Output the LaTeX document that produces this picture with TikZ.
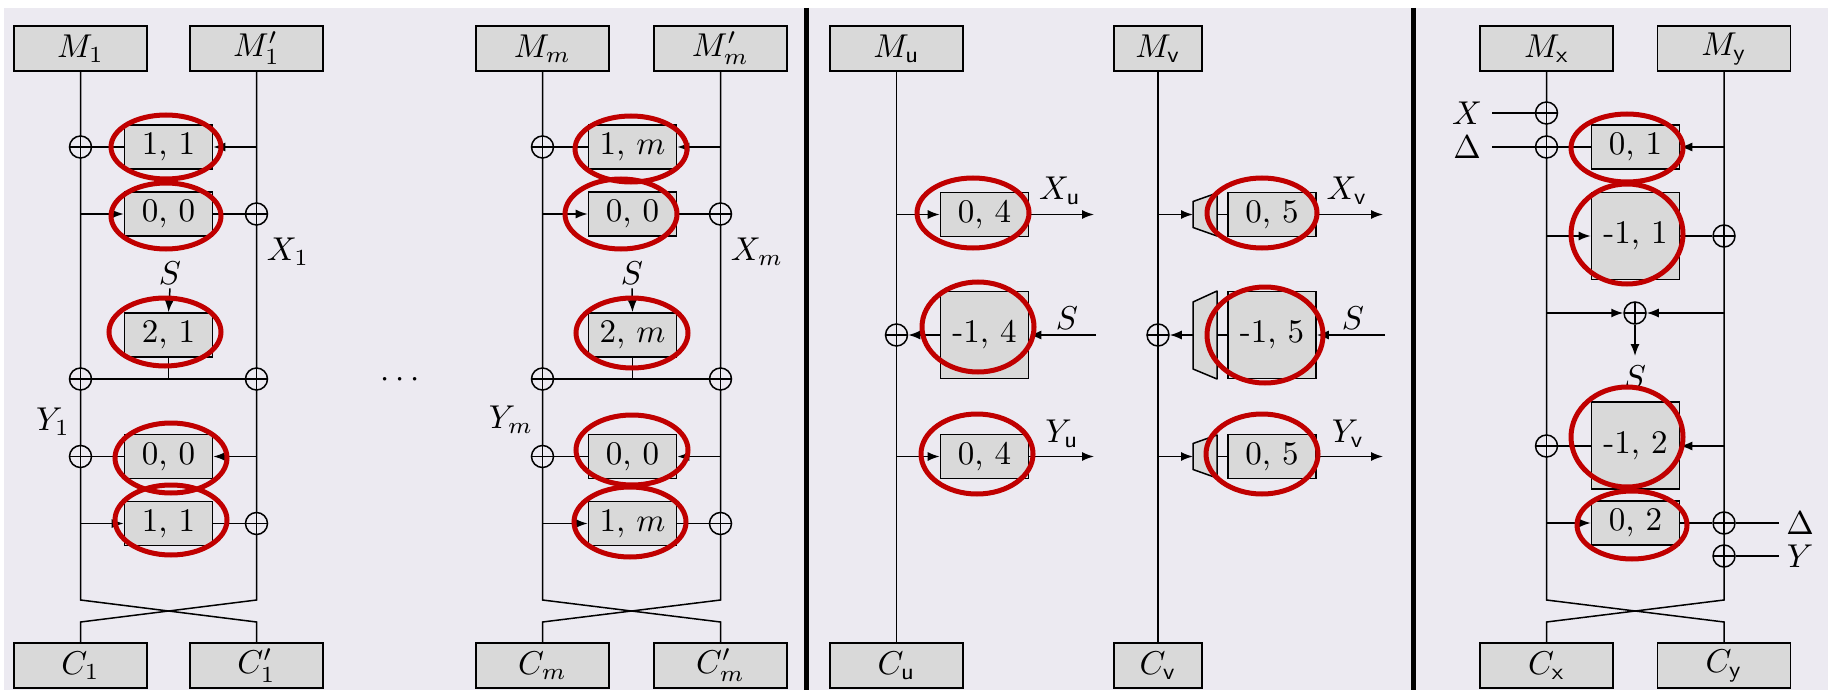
\documentclass[tikz,border=0pt]{standalone}
\usepackage{graphicx}
\usetikzlibrary{arrows.meta}
\definecolor{bgc}{RGB}{236,234,241}
\definecolor{boxg}{RGB}{217,217,217}
\definecolor{ringred}{RGB}{192,0,0}
\newcommand{\T}[1]{\scalebox{3.3}{#1}}
\tikzset{
  wire/.style={line width=1.5pt},
  arr/.style={line width=1.5pt,-{Latex[length=12pt,width=9pt]}},
  mbox/.style={draw,fill=boxg,line width=1.8pt,minimum width=133pt,minimum height=45pt,inner sep=0pt},
  nbox/.style={mbox,minimum width=88pt},
  sbox/.style={draw,fill=boxg,line width=1.6pt,minimum width=88pt,minimum height=44pt,inner sep=0pt},
  tbox/.style={sbox,minimum height=87pt},
  xor/.style={circle,draw,fill=bgc,line width=1.5pt,minimum size=22pt,inner sep=0pt,
    path picture={\draw[line width=1.5pt] (path picture bounding box.north)--(path picture bounding box.south)
      (path picture bounding box.west)--(path picture bounding box.east);}},
  lbl/.style={inner sep=0pt},
  ring/.style={draw=ringred,line width=5pt},
  trap/.style={draw,fill=boxg,line width=1.5pt,line join=round},
  divider/.style={line width=5pt},
}
\begin{document}
\begin{tikzpicture}[x=1pt,y=-1pt]
\useasboundingbox (0,0) rectangle (1831,690);
\fill[bgc] (4,8) rectangle (1828,690);
\draw[divider] (806,8) -- (806,690);
\draw[divider] (1413,8) -- (1413,690);

% ================= Block 1 =================
\node[mbox] (M1) at (80.5,48.5) {\T{$M_1$}};
\node[mbox] (M1p) at (256.5,48.5) {\T{$M_1'$}};
\node[mbox] (C1) at (80.5,665.5) {\T{$C_1$}};
\node[mbox] (C1p) at (256.5,665.5) {\T{$C_1'$}};
\node[sbox] (a11) at (168.5,147) {\T{1, 1}};
\node[sbox] (a00) at (168.5,214) {\T{0, 0}};
\node[sbox] (a21) at (168.5,335) {\T{2, 1}};
\node[sbox] (a00b) at (168.5,456.5) {\T{0, 0}};
\node[sbox] (a11b) at (168.5,523.5) {\T{1, 1}};
\coordinate (aL1) at (80.5,600);
\coordinate (aR1) at (256.5,600);
\coordinate (aL2) at (80.5,622);
\coordinate (aR2) at (256.5,622);
\draw[wire] (M1.south) -- (aL1) -- (aR2) -- (C1p.north);
\draw[wire] (M1p.south) -- (aR1) -- (aL2) -- (C1.north);
\node[xor] (ax1) at (80.5,147) {};
\node[xor] (ax2) at (256.5,214) {};
\node[xor] (ax3) at (80.5,379) {};
\node[xor] (ax4) at (256.5,379) {};
\node[xor] (ax5) at (80.5,456.5) {};
\node[xor] (ax6) at (256.5,523.5) {};
\draw[wire] (ax1) -- (a11.west);
\draw[arr] (M1p.south |- a11.east) -- (a11.east);
\draw[arr] (M1.south |- a00.west) -- (a00.west);
\draw[wire] (a00.east) -- (ax2);
\node[lbl] (S1) at (170,273) {\T{$S$}};
\draw[arr] ([yshift=-4pt]S1.south) -- (a21.north);
\draw[wire] (ax3) -- (ax4);
\draw[wire] (a21.south) -- (a21.south |- ax3);
\draw[wire] (ax5) -- (a00b.west);
\draw[arr] (M1p.south |- a00b.east) -- (a00b.east);
\draw[arr] (M1.south |- a11b.west) -- (a11b.west);
\draw[wire] (a11b.east) -- (ax6);
\node[lbl] (X1) at (288,252) {\T{$X_1$}};
\node[lbl] (Y1) at (53,422) {\T{$Y_1$}};

\node[lbl,anchor=base] (dots) at (400,387) {\T{$\cdots$}};

% ================= Block m =================
\node[mbox] (Mm) at (542.5,48.5) {\T{$M_m$}};
\node[mbox] (Mmp) at (720.5,48.5) {\T{$M_m'$}};
\node[mbox] (Cm) at (542.5,665.5) {\T{$C_m$}};
\node[mbox] (Cmp) at (720.5,665.5) {\T{$C_m'$}};
\node[sbox] (b1m) at (632.5,147) {\T{1, $m$}};
\node[sbox] (b00) at (632.5,214) {\T{0, 0}};
\node[sbox] (b2m) at (632.5,335) {\T{2, $m$}};
\node[sbox] (b00b) at (632.5,456.5) {\T{0, 0}};
\node[sbox] (b1mb) at (632.5,523.5) {\T{1, $m$}};
\coordinate (bL1) at (542.5,600);
\coordinate (bR1) at (720.5,600);
\coordinate (bL2) at (542.5,622);
\coordinate (bR2) at (720.5,622);
\draw[wire] (Mm.south) -- (bL1) -- (bR2) -- (Cmp.north);
\draw[wire] (Mmp.south) -- (bR1) -- (bL2) -- (Cm.north);
\node[xor] (bx1) at (542.5,147) {};
\node[xor] (bx2) at (720.5,214) {};
\node[xor] (bx3) at (542.5,379) {};
\node[xor] (bx4) at (720.5,379) {};
\node[xor] (bx5) at (542.5,456.5) {};
\node[xor] (bx6) at (720.5,523.5) {};
\draw[wire] (bx1) -- (b1m.west);
\draw[arr] (Mmp.south |- b1m.east) -- (b1m.east);
\draw[arr] (Mm.south |- b00.west) -- (b00.west);
\draw[wire] (b00.east) -- (bx2);
\node[lbl] (S2) at (632,273) {\T{$S$}};
\draw[arr] ([yshift=-4pt]S2.south) -- (b2m.north);
\draw[wire] (bx3) -- (bx4);
\draw[wire] (b2m.south) -- (b2m.south |- bx3);
\draw[wire] (bx5) -- (b00b.west);
\draw[arr] (Mmp.south |- b00b.east) -- (b00b.east);
\draw[arr] (Mm.south |- b1mb.west) -- (b1mb.west);
\draw[wire] (b1mb.east) -- (bx6);
\node[lbl] (Xm) at (757,252) {\T{$X_m$}};
\node[lbl] (Ym) at (511,420) {\T{$Y_m$}};

% ================= Middle panel =================
\node[mbox] (Mu) at (896.5,48.5) {\T{$M_{\mathsf{u}}$}};
\node[nbox] (Mv) at (1158,48.5) {\T{$M_{\mathsf{v}}$}};
\node[mbox] (Cu) at (896.5,665.5) {\T{$C_{\mathsf{u}}$}};
\node[nbox] (Cv) at (1158,665.5) {\T{$C_{\mathsf{v}}$}};
\draw[wire] (Mu.south) -- (Cu.north);
\draw[wire] (Mv.south) -- (Cv.north);
\node[sbox] (u1) at (984.5,214.5) {\T{0, 4}};
\node[tbox] (u2) at (984.5,335) {\T{-1, 4}};
\node[sbox] (u3) at (984.5,456.5) {\T{0, 4}};
\node[sbox] (v1) at (1272,214.5) {\T{0, 5}};
\node[tbox] (v2) at (1272,335) {\T{-1, 5}};
\node[sbox] (v3) at (1272,456.5) {\T{0, 5}};
\node[xor] (ux) at (896.5,335) {};
\node[xor] (vx) at (1158,335) {};
% trapezoids
\draw[trap] (1193,201.5) -- (1217,193) -- (1217,236) -- (1193,227.5) -- cycle;
\draw[trap] (1193,302) -- (1217,291) -- (1217,379) -- (1193,369) -- cycle;
\draw[trap] (1193,443.5) -- (1217,435) -- (1217,478) -- (1193,469.5) -- cycle;
\coordinate (t1L) at (1193,214.5);
\coordinate (t1R) at (1217,214.5);
\coordinate (t2L) at (1193,335);
\coordinate (t2R) at (1217,335);
\coordinate (t3L) at (1193,456.5);
\coordinate (t3R) at (1217,456.5);
\coordinate (uXo) at (1094,214.5);
\coordinate (uYo) at (1094,456.5);
\coordinate (uSi) at (1096,335);
\coordinate (vXo) at (1383,214.5);
\coordinate (vYo) at (1383,456.5);
\coordinate (vSi) at (1385,335);
\draw[arr] (Mu.south |- u1.west) -- (u1.west);
\draw[arr] (u1.east) -- (uXo);
\draw[arr] (u2.west) -- (ux);
\draw[arr] (uSi) -- (u2.east);
\draw[arr] (Mu.south |- u3.west) -- (u3.west);
\draw[arr] (u3.east) -- (uYo);
\draw[arr] (Mv.south |- t1L) -- (t1L);
\draw[wire] (t1R) -- (v1.west);
\draw[arr] (v1.east) -- (vXo);
\draw[wire] (t2R) -- (v2.west);
\draw[arr] (t2L) -- (vx);
\draw[arr] (vSi) -- (v2.east);
\draw[arr] (Mv.south |- t3L) -- (t3L);
\draw[wire] (t3R) -- (v3.west);
\draw[arr] (v3.east) -- (vYo);
\node[lbl] (Xu) at (1060,191) {\T{$X_{\mathsf{u}}$}};
\node[lbl] (Yu) at (1062,434) {\T{$Y_{\mathsf{u}}$}};
\node[lbl] (Su) at (1067,318) {\T{$S$}};
\node[lbl] (Xv) at (1347,191) {\T{$X_{\mathsf{v}}$}};
\node[lbl] (Yv) at (1348,434) {\T{$Y_{\mathsf{v}}$}};
\node[lbl] (Sv) at (1353,318) {\T{$S$}};

% ================= Right panel =================
\node[mbox] (Mx) at (1546.5,48.5) {\T{$M_{\mathsf{x}}$}};
\node[mbox] (My) at (1724,48.5) {\T{$M_{\mathsf{y}}$}};
\node[mbox] (Cx) at (1546.5,665.5) {\T{$C_{\mathsf{x}}$}};
\node[mbox] (Cy) at (1724,665.5) {\T{$C_{\mathsf{y}}$}};
\coordinate (cL1) at (1546.5,600);
\coordinate (cR1) at (1724,600);
\coordinate (cL2) at (1546.5,622);
\coordinate (cR2) at (1724,622);
\draw[wire] (Mx.south) -- (cL1) -- (cR2) -- (Cy.north);
\draw[wire] (My.south) -- (cR1) -- (cL2) -- (Cx.north);
\node[sbox] (c01) at (1635.5,147) {\T{0, 1}};
\node[tbox] (c11) at (1635.5,236) {\T{-1, 1}};
\node[tbox] (c12) at (1635.5,445.5) {\T{-1, 2}};
\node[sbox] (c02) at (1635.5,523) {\T{0, 2}};
\node[xor] (rx1) at (1546.5,113) {};
\node[xor] (rx2) at (1546.5,147) {};
\node[xor] (ry1) at (1724,236) {};
\node[xor] (rm) at (1635,313) {};
\node[xor] (rx3) at (1546.5,446) {};
\node[xor] (ry2) at (1724,523) {};
\node[xor] (ry3) at (1724,556) {};
\coordinate (xin) at (1492,113);
\coordinate (din) at (1492,147);
\coordinate (dout) at (1779,523);
\coordinate (yout) at (1779,556);
\coordinate (sout) at (1635,356);
\draw[wire] (xin) -- (rx1);
\draw[wire] (din) -- (rx2);
\draw[wire] (rx2) -- (c01.west);
\draw[arr] (My.south |- c01.east) -- (c01.east);
\draw[arr] (Mx.south |- c11.west) -- (c11.west);
\draw[wire] (c11.east) -- (ry1);
\draw[arr] (Mx.south |- rm) -- (rm);
\draw[arr] (My.south |- rm) -- (rm);
\draw[arr] (rm) -- (sout);
\draw[wire] (c12.west |- rx3) -- (rx3);
\draw[arr] (My.south |- rx3) -- (c12.east |- rx3);
\draw[arr] (Mx.south |- c02.west) -- (c02.west);
\draw[wire] (c02.east) -- (ry2);
\draw[wire] (ry2) -- (dout);
\draw[wire] (ry3) -- (yout);
\node[lbl] (Xin) at (1467,113) {\T{$X$}};
\node[lbl] (Din) at (1467,147) {\T{$\Delta$}};
\node[lbl] (Sr) at (1635,377) {\T{$S$}};
\node[lbl] (Dout) at (1800,523) {\T{$\Delta$}};
\node[lbl] (Yout) at (1800,556) {\T{$Y$}};

% ================= Red rings =================
\draw[ring] (166,147) ellipse [x radius=55, y radius=32];
\draw[ring] (166,216) ellipse [x radius=55, y radius=33];
\draw[ring] (165,332) ellipse [x radius=56, y radius=34];
\draw[ring] (171,458) ellipse [x radius=56, y radius=35];
\draw[ring] (171,520) ellipse [x radius=56, y radius=35];
\draw[ring] (631,149) ellipse [x radius=56, y radius=33];
\draw[ring] (621,214) ellipse [x radius=56, y radius=35];
\draw[ring] (632,333) ellipse [x radius=56, y radius=35];
\draw[ring] (632,450) ellipse [x radius=56, y radius=35];
\draw[ring] (630,522) ellipse [x radius=56, y radius=35];
\draw[ring] (973,213) ellipse [x radius=56, y radius=35];
\draw[ring] (978,327) ellipse [x radius=56, y radius=45];
\draw[ring] (977,454) ellipse [x radius=56, y radius=40];
\draw[ring] (1262,213) ellipse [x radius=55, y radius=35];
\draw[ring] (1265,335) ellipse [x radius=58, y radius=48];
\draw[ring] (1262,454) ellipse [x radius=56, y radius=40];
\draw[ring] (1627,148) ellipse [x radius=56, y radius=34];
\draw[ring] (1627,234) ellipse [x radius=56, y radius=50];
\draw[ring] (1627,437) ellipse [x radius=56, y radius=50];
\draw[ring] (1632,525) ellipse [x radius=55, y radius=34];
\end{tikzpicture}
\end{document}
